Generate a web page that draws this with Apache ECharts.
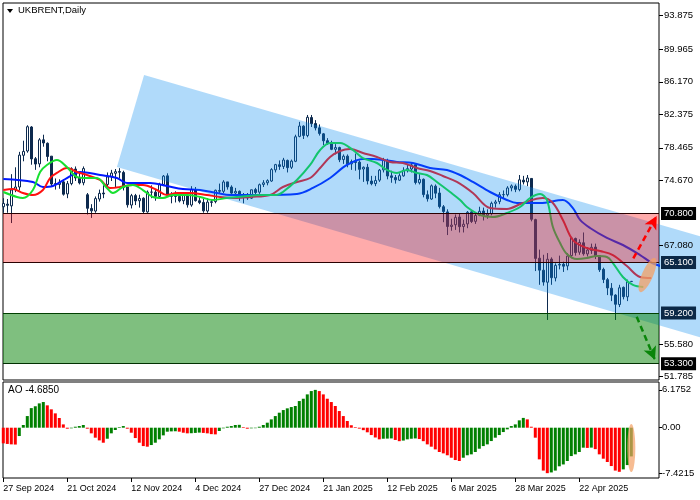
<!DOCTYPE html>
<html><head><meta charset="utf-8">
<script src="https://cdn.jsdelivr.net/npm/echarts/dist/echarts.min.js"></script>
<style>html,body{margin:0;padding:0;background:#fff}#c{width:700px;height:500px}</style>
</head><body><div id="c"></div>
<script>
// ---------- data ----------
const tickIdx = [0,16,32,48,64,80,96,112,128,144];
const tickLabels = ['27 Sep 2024','21 Oct 2024','12 Nov 2024','4 Dec 2024','27 Dec 2024','21 Jan 2025','12 Feb 2025','6 Mar 2025','28 Mar 2025','22 Apr 2025'];

const opens = [71.6,71.9,71.7,73.6,73.9,77.6,78.1,80.9,77.2,76.6,79.4,79.0,77.5,74.3,74.2,74.5,73.1,74.3,76.0,75.0,
74.4,73.0,71.4,71.1,72.5,73.2,74.2,75.1,75.5,75.7,75.6,73.9,71.8,72.9,72.3,72.6,71.0,73.3,73.3,72.8,
74.2,75.2,73.0,72.8,72.8,72.3,72.9,71.8,73.6,72.3,72.1,71.1,72.1,72.2,73.5,73.4,74.5,73.9,73.2,73.4,
72.9,72.9,72.6,73.6,73.3,74.2,74.4,74.6,75.9,76.5,76.3,77.0,76.2,76.9,79.8,81.0,79.9,82.0,81.3,80.8,
80.1,79.3,79.0,78.3,78.5,77.1,77.5,76.6,76.9,76.8,76.0,76.2,74.6,74.3,74.7,75.9,77.0,75.2,75.0,74.7,
75.2,75.8,76.0,76.5,74.4,74.8,73.0,72.5,74.0,73.2,71.6,71.0,69.3,69.5,70.4,69.3,69.6,71.0,69.9,70.6,
71.1,70.6,70.8,72.0,72.2,73.0,73.0,73.8,74.0,73.6,74.7,74.5,74.9,70.1,65.6,64.2,62.8,65.5,63.3,64.8,
64.9,64.7,65.9,67.9,66.3,67.4,66.1,66.5,66.9,65.9,64.3,63.1,62.1,61.3,60.2,62.2,61.1,62.88];
const highs = [72.6,72.5,75.4,76.2,78.0,79.3,81.1,81.0,77.4,79.6,80.0,79.1,77.5,74.9,74.8,74.8,74.6,76.2,76.3,75.6,
76.3,73.2,71.9,72.8,73.6,74.1,75.6,75.9,76.0,76.1,75.8,73.9,73.1,73.1,73.0,72.7,73.5,74.1,73.6,74.4,
75.3,75.5,73.3,73.4,73.2,73.2,73.3,74.0,73.9,72.7,72.5,72.6,72.5,73.6,74.3,74.7,74.5,74.1,73.8,73.5,
73.2,73.2,73.6,73.8,74.3,74.7,74.8,76.1,76.6,77.0,77.3,77.1,77.1,80.0,81.5,81.1,82.3,82.3,81.7,81.2,
80.2,79.6,79.3,78.9,78.6,77.7,77.7,77.1,77.8,77.0,76.3,76.6,75.2,75.2,76.0,77.3,77.2,75.8,75.3,75.5,
76.2,76.6,76.8,76.6,75.4,74.9,73.5,74.2,74.2,73.8,71.8,71.3,70.2,70.7,70.8,70.1,71.1,71.2,70.9,71.6,
71.5,71.3,72.2,72.4,73.3,73.5,74.0,74.2,74.2,75.3,75.2,75.3,74.9,70.2,66.6,66.0,66.2,65.7,65.0,65.9,
65.2,66.2,68.1,68.0,67.8,68.6,66.9,67.3,67.3,65.9,64.5,63.3,62.7,61.4,62.5,62.3,63.1,62.95];
const lows = [70.9,70.9,69.7,73.3,73.5,76.9,77.9,76.5,75.9,76.2,78.6,76.9,73.9,73.6,73.7,72.9,72.6,74.1,74.6,74.2,
74.1,70.7,70.3,70.9,72.2,72.6,74.0,74.6,73.9,74.9,73.5,71.5,71.4,71.8,71.5,70.8,70.9,72.6,72.3,72.5,
74.0,72.9,72.0,72.1,72.1,71.9,71.5,71.6,72.2,71.9,70.9,70.9,71.6,72.0,73.2,73.2,73.6,72.9,72.9,72.3,
72.0,72.4,72.5,72.8,73.1,73.9,74.1,74.5,75.6,75.9,76.0,75.6,76.0,76.8,79.7,79.5,79.7,80.9,80.5,79.9,
78.8,78.8,78.2,77.7,76.8,76.6,76.2,75.9,75.8,74.8,74.5,74.2,74.1,74.0,74.5,75.6,74.8,74.4,74.3,74.6,
75.1,75.6,75.6,74.2,74.2,72.7,72.2,72.4,72.6,71.4,69.8,68.3,68.8,68.9,68.6,68.6,69.1,69.7,69.6,70.5,
70.0,70.2,70.6,71.5,71.9,72.6,72.8,73.4,73.3,73.4,74.2,74.0,69.9,64.1,62.5,62.4,58.4,62.5,62.9,64.3,
64.0,64.2,65.6,65.9,66.0,65.9,65.8,66.1,65.5,64.0,62.7,61.3,60.6,58.4,59.9,60.8,60.6,62.82];
const closes = [71.98,71.77,73.56,73.90,77.62,78.05,80.93,77.18,76.58,79.40,79.04,77.46,74.25,74.22,74.45,73.06,74.29,76.04,74.96,74.38,
76.05,71.42,71.12,72.55,73.16,73.10,75.08,75.53,75.69,75.63,73.87,71.83,72.89,72.28,72.56,71.04,73.30,73.31,72.81,74.23,
75.17,73.01,72.81,72.83,72.28,72.94,71.83,73.62,72.31,72.09,71.12,72.14,72.19,73.52,73.41,74.49,73.91,73.19,73.39,72.88,
72.94,72.63,73.58,73.26,74.17,74.39,74.64,75.93,76.51,76.30,77.05,76.16,76.92,79.76,81.01,79.92,82.03,81.29,80.79,80.15,
79.29,79.00,78.29,78.50,77.08,77.49,76.58,76.87,76.76,75.96,76.20,74.61,74.29,74.66,75.87,77.00,75.18,75.02,74.74,75.22,
75.84,76.04,76.48,74.43,74.78,73.02,72.53,74.04,73.18,71.62,71.04,69.30,69.46,70.36,69.28,69.56,70.95,69.88,70.58,71.07,
70.56,70.78,72.00,72.16,73.00,73.02,73.79,74.03,73.63,74.74,74.49,74.95,70.14,65.58,64.21,62.82,65.48,63.33,64.76,64.88,
64.67,65.85,67.96,66.26,67.44,66.12,66.55,66.87,65.86,64.25,63.12,62.13,61.29,60.23,62.15,61.12,62.84,62.90];

// Alligator lines: [bar index, price]
const jaw = [[0,74.84],[7.4,74.49],[9.9,73.90],[12.4,74.02],[15.9,74.95],[19.2,75.65],[24.2,75.30],[28.4,74.95],[30.9,74.37],
[36.7,74.37],[40.9,74.02],[44.9,73.67],[49.2,73.55],[53.4,73.20],[56.7,72.97],[64.9,72.97],[73.4,73.09],[77.4,73.79],
[81.7,74.95],[85.9,76.47],[89.9,77.17],[92.4,77.17],[98.4,76.82],[102.4,76.70],[106.7,76.12],[110.9,75.89],[114.2,75.30],
[117.4,74.49],[121.7,73.32],[125.9,72.39],[128.4,72.04],[134.2,72.04],[139.9,72.39],[142.4,71.45],[144.2,70.06],
[146.7,69.12],[150.9,67.96],[154.9,67.14],[159.2,65.97],[162.2,65.04],[165,64.6]];
const teeth = [[0,73.55],[2.4,73.67],[4.9,73.20],[7.4,72.97],[9.9,73.55],[11.7,74.95],[13.4,75.54],[15.9,76.12],[18.4,75.65],
[20.9,75.30],[24.2,74.72],[26.7,73.79],[29.2,73.90],[32.4,74.14],[34.9,74.14],[38.4,73.55],[40.9,72.97],[43.4,73.20],
[46.7,73.20],[50.9,72.97],[54.2,72.74],[58.4,72.62],[61.7,72.74],[66.7,72.97],[69.9,73.90],[73.4,74.49],[76.7,74.95],
[79.2,76.12],[81.7,77.40],[84.2,78.10],[86.7,78.33],[89.9,77.87],[93.4,77.40],[96.7,76.82],[99.9,76.70],[103.4,76.12],
[106.7,75.77],[109.9,75.19],[113.4,74.49],[117.4,73.20],[121.7,71.45],[125.9,71.34],[129.9,72.04],[134.9,72.62],
[137.4,72.04],[139.9,70.06],[142.4,67.72],[145.9,66.79],[149.2,66.44],[152.4,65.97],[155.9,64.69],[159.2,63.41],[162,63.29]];
const lips = [[0,73.32],[3.4,72.74],[4.9,72.62],[7.4,73.55],[9.2,75.65],[10.9,76.47],[13.4,77.05],[15.9,76.23],[18.4,75.07],
[20.9,74.95],[23.4,74.95],[25.9,73.79],[27.4,73.20],[29.9,73.90],[32.4,74.14],[34.9,73.55],[37.4,72.74],[39.9,72.62],
[42.4,72.97],[45.9,72.97],[49.2,72.74],[52.4,72.39],[55.9,72.62],[58.4,72.74],[64.9,72.97],[68.4,72.97],[69.9,73.32],
[73.4,74.72],[76.7,76.47],[79.2,78.22],[81.7,79.03],[84.2,79.03],[87.4,78.22],[89.9,77.28],[93.4,76.70],[95.9,75.89],
[98.4,75.54],[100.9,75.89],[103.4,75.54],[105.9,75.30],[108.4,74.49],[111.7,73.32],[114.2,72.39],[115.9,71.57],
[119.2,70.64],[122.4,70.40],[125.9,70.87],[129.2,71.57],[131.7,72.62],[134.2,73.09],[135.9,72.39],[137.4,69.24],
[139.2,67.37],[140.9,66.09],[143.4,65.51],[145.9,65.62],[148.4,65.86],[150.9,65.74],[152.4,65.04],[154.9,63.41],
[157.4,62.48],[160,62.24]];

const aoValues = [-2.55,-2.65,-2.72,-2.75,-1.36,0.44,1.9,3.2,3.5,3.97,4.19,3.65,3.0,2.34,1.58,0.54,-0.16,-0.1,0.16,0.27,
0.44,-0.16,-0.92,-1.63,-2.07,-2.45,-1.8,-0.92,-0.38,0.1,0.27,-0.16,-0.82,-1.69,-2.45,-3.0,-3.1,-2.83,-2.45,-1.9,
-1.25,-0.65,-0.6,-0.58,-0.65,-0.82,-0.92,-0.9,-0.85,-0.8,-0.85,-0.92,-1.05,-1.09,-0.54,-0.1,0.16,0.27,0.44,0.47,
0.1,-0.16,-0.1,-0.08,0.16,0.44,0.82,1.36,1.9,2.45,2.88,3.16,3.37,3.54,4.35,4.73,5.44,5.98,6.1752,5.98,
5.44,4.73,4.19,3.54,2.72,1.9,1.09,0.4,0.1,-0.15,-0.4,-0.75,-1.2,-1.6,-1.9,-1.8,-1.78,-1.75,-2.0,-2.2,
-2.1,-1.9,-1.8,-1.75,-1.85,-2.2,-2.72,-3.1,-3.54,-3.97,-4.19,-4.5,-4.9,-5.28,-5.44,-4.9,-4.5,-4.35,-3.97,-3.43,
-3.0,-2.72,-2.18,-1.63,-1.2,-0.71,-0.27,0.27,0.54,1.2,1.6,1.36,0.16,-1.63,-5.17,-7.0,-7.4215,-7.3,-7.0,-6.3,
-6.0,-5.44,-4.63,-4.35,-3.97,-3.26,-3.3,-3.25,-3.5,-4.35,-5.06,-5.6,-6.26,-7.0,-7.2,-6.8,-6.1,-4.685];

const priceTicks = [93.875,89.965,86.170,82.375,78.465,74.670,67.080,55.580,51.785];
const aoTicks = [6.1752,0,-7.4215];
const aoTickLabels = ['6.1752','0.00','-7.4215'];
const levels = [70.8,65.1,59.2,53.3];
const lastPrice = 62.901;
const zones = [[70.8,65.1],[59.2,53.3]];
// price channel (bar index, price)
const channelUpper = [[35.2,86.96],[185,66.70]];
const channelLower = [[28.4,76.24],[185,54.90]];
const arrowUp = [[157.5,65.59],[163.35,70.52]];
const arrowDown = [[158.35,58.78],[162.9,53.76]];
const ellipseMain = [[159.2,61.66],[162.9,65.62]];
const ellipseAO = [[157,0.6],[157,-7.25]];

// ---------- chart ----------
const navy = '#0d2a4e';
const chart = echarts.init(document.getElementById('c'), null, {renderer:'canvas', width:700, height:500});
const FONT = 'Liberation Sans';

function ellipseRender(pts, rMinor, fill){
  return function(params, api){
    const p1 = api.coord(pts[0]), p2 = api.coord(pts[1]);
    const cx=(p1[0]+p2[0])/2, cy=(p1[1]+p2[1])/2;
    const dx=p2[0]-p1[0], dy=p2[1]-p1[1];
    const a=Math.sqrt(dx*dx+dy*dy)/2;
    const ux=dx/(2*a), uy=dy/(2*a);
    const poly=[];
    for(let k=0;k<48;k++){
      const t=k/48*Math.PI*2;
      poly.push([cx+a*Math.cos(t)*ux - rMinor*Math.sin(t)*uy, cy+a*Math.cos(t)*uy + rMinor*Math.sin(t)*ux]);
    }
    return {type:'polygon', shape:{points:poly}, style:{fill:fill}};
  };
}

const candleData = closes.map((c,i)=>[i, opens[i], c, lows[i], highs[i]]);
const aoData = aoValues.map((v,i)=>[i,v]);
const noLine = {show:false, onZero:false};

const option = {
  animation:false,
  backgroundColor:'#ffffff',
  textStyle:{fontFamily:FONT},
  grid:[
    {left:3, top:3, width:656, height:377, show:true, borderColor:'#000', borderWidth:1, containLabel:false, outerBoundsMode:'none'},
    {left:3, top:382, width:656, height:96, show:true, borderColor:'#000', borderWidth:1, containLabel:false, outerBoundsMode:'none'}
  ],
  xAxis:[
    {type:'value', gridIndex:0, min:-0.075, max:163.925, axisLine:noLine, axisTick:{show:false}, axisLabel:{show:false}, splitLine:{show:false}},
    {type:'value', gridIndex:1, position:'bottom', min:-0.075, max:163.925, axisLine:noLine,
      axisTick:{show:true, customValues:tickIdx, length:4, lineStyle:{color:'#000'}},
      axisLabel:{show:true, customValues:tickIdx, formatter:v=>tickLabels[tickIdx.indexOf(Math.round(v))]||'', align:'left', color:'#000', fontSize:9, fontFamily:FONT, margin:6},
      splitLine:{show:false}}
  ],
  yAxis:[
    {type:'value', gridIndex:0, position:'right', min:51.40, max:95.356, z:20, axisLine:noLine,
      axisTick:{show:true, customValues:priceTicks, length:4, lineStyle:{color:'#000'}},
      axisLabel:{show:true, customValues:priceTicks, formatter:v=>v.toFixed(3), color:'#000', fontSize:9.5, fontFamily:FONT, margin:5},
      splitLine:{show:false}},
    {type:'value', gridIndex:1, position:'right', min:-8.21, max:7.46, z:20, axisLine:noLine,
      axisTick:{show:true, customValues:aoTicks, length:3, lineStyle:{color:'#000'}},
      axisLabel:{show:true, customValues:aoTicks, formatter:v=>{let j=aoTicks.findIndex(t=>Math.abs(t-v)<1e-6);return j>=0?aoTickLabels[j]:'';}, color:'#000', fontSize:9.5, fontFamily:FONT, margin:3},
      splitLine:{show:false}}
  ],
  graphic:[
    {type:'polygon', shape:{points:[[7,9],[13,9],[10,13]]}, style:{fill:'#000'}},
    {type:'text', left:18, top:5, style:{text:'UKBRENT,Daily', fill:'#000', font:'9.5px "Liberation Sans"'}},
    {type:'text', left:8, top:385, style:{text:'AO -4.6850', fill:'#000', font:'10px "Liberation Sans"'}}
  ],
  series:[
    {type:'candlestick', xAxisIndex:0, yAxisIndex:0, data:candleData, encode:{x:0,y:[1,2,3,4]}, barWidth:3, z:2,
      itemStyle:{color:'#ffffff', color0:navy, borderColor:navy, borderColor0:navy, borderColorDoji:navy, borderWidth:1}},
    {type:'line', xAxisIndex:0, yAxisIndex:0, data:jaw, smooth:0.35, symbol:'none', z:3, lineStyle:{color:'#0018ff', width:2}},
    {type:'line', xAxisIndex:0, yAxisIndex:0, data:teeth, smooth:0.35, symbol:'none', z:3, lineStyle:{color:'#ff1010', width:2}},
    {type:'line', xAxisIndex:0, yAxisIndex:0, data:lips, smooth:0.35, symbol:'none', z:3, lineStyle:{color:'#18e030', width:2}},
    {type:'custom', xAxisIndex:0, yAxisIndex:0, data:[[0,60]], clip:false, z:4, silent:true,
      renderItem:function(params, api){
        const pts=[api.coord(channelUpper[0]), api.coord(channelUpper[1]), api.coord(channelLower[1]), api.coord(channelLower[0])];
        return {type:'polygon', shape:{points:pts}, style:{fill:'rgba(10,140,240,0.32)'}};
      }},
    {type:'custom', xAxisIndex:0, yAxisIndex:0, data:zones, clip:true, z:5, silent:true,
      renderItem:function(params, api){
        const cs=params.coordSys;
        const y1=api.coord([0, api.value(0)])[1], y2=api.coord([0, api.value(1)])[1];
        const fills=['rgba(255,0,0,0.33)','rgba(0,128,0,0.5)'];
        return {type:'rect', shape:{x:cs.x, y:y1, width:cs.width, height:y2-y1}, style:{fill:fills[params.dataIndex]}};
      }},
    {type:'line', xAxisIndex:0, yAxisIndex:0, data:[[0,60]], symbol:'none', lineStyle:{opacity:0}, clip:false, z:10, silent:true,
      markLine:{silent:true, symbol:'none', animation:false,
        data:[
          {yAxis:levels[0], lineStyle:{color:'#000',width:1,type:'solid'}, label:{show:true, position:'end', distance:2, formatter:levels[0].toFixed(3), color:'#fff', backgroundColor:'#000', padding:[2,3,1,3], fontSize:9.5, fontFamily:FONT}},
          {yAxis:levels[1], lineStyle:{color:'#000',width:1,type:'solid'}, label:{show:true, position:'end', distance:2, formatter:levels[1].toFixed(3), color:'#fff', backgroundColor:'#0b2846', padding:[2,3,1,3], fontSize:9.5, fontFamily:FONT}},
          {yAxis:levels[2], lineStyle:{color:'#000',width:1,type:'solid'}, label:{show:true, position:'end', distance:2, formatter:levels[2].toFixed(3), color:'#fff', backgroundColor:'#0b2846', padding:[2,3,1,3], fontSize:9.5, fontFamily:FONT}},
          {yAxis:levels[3], lineStyle:{color:'#000',width:1,type:'solid'}, label:{show:true, position:'end', distance:2, formatter:levels[3].toFixed(3), color:'#fff', backgroundColor:'#000', padding:[2,3,1,3], fontSize:9.5, fontFamily:FONT}},
          {yAxis:lastPrice, lineStyle:{opacity:0}, label:{show:true, position:'end', distance:2, formatter:lastPrice.toFixed(3), color:'#fff', backgroundColor:'#0b2846', padding:[2,3,1,3], fontSize:9.5, fontFamily:FONT}}
        ]}},
    {type:'line', xAxisIndex:0, yAxisIndex:0, data:[[0,60]], symbol:'none', lineStyle:{opacity:0}, clip:false, z:11, silent:true,
      markLine:{silent:true, symbol:['none','arrow'], symbolSize:[10,13], animation:false, label:{show:false},
        data:[
          [{coord:arrowUp[0], lineStyle:{color:'#ff0000', width:2.5, type:[6,4]}}, {coord:arrowUp[1]}],
          [{coord:arrowDown[0], lineStyle:{color:'#138a13', width:2.5, type:[6,4]}}, {coord:arrowDown[1]}]
        ]}},
    {type:'custom', xAxisIndex:0, yAxisIndex:0, data:[[0,60]], clip:false, z:12, silent:true,
      renderItem:ellipseRender(ellipseMain, 5.5, 'rgba(244,160,100,0.75)')},
    {type:'bar', xAxisIndex:1, yAxisIndex:1, data:aoData, barWidth:3, z:2,
      itemStyle:{color:function(p){const i=p.dataIndex; return (i>0 && aoValues[i]>aoValues[i-1]) ? '#008000' : '#ff0000';}}},
    {type:'custom', xAxisIndex:1, yAxisIndex:1, data:[[0,0]], clip:false, z:12, silent:true,
      renderItem:ellipseRender(ellipseAO, 4, 'rgba(244,160,100,0.7)')}
  ]
};
chart.setOption(option);
</script>
</body></html>
